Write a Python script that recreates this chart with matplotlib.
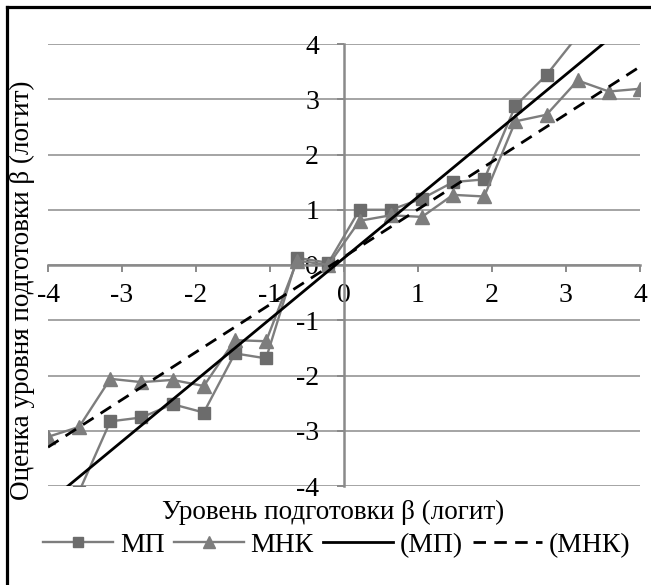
import numpy as np
import matplotlib
matplotlib.use("Agg")
import matplotlib.pyplot as plt
from matplotlib.lines import Line2D

plt.rcParams['font.family'] = ['Liberation Serif', 'DejaVu Serif']

# Уровень подготовки (x) for the 20 test-takers
beta_true = [-4.0, -3.579, -3.158, -2.737, -2.316, -1.895, -1.474, -1.053, -0.632, -0.211,
             0.211, 0.632, 1.053, 1.474, 1.895, 2.316, 2.737, 3.158, 3.579, 4.0]
# Оценки методом МП (squares); first/last points lie outside the visible range (estimated)
est_mp = [-4.60, -4.10, -2.83, -2.76, -2.52, -2.67, -1.60, -1.69, 0.13, 0.04,
          1.00, 1.00, 1.20, 1.50, 1.55, 2.88, 3.44, 4.15, 4.40, 4.60]
# Оценки методом МНК (triangles)
est_mnk = [-3.11, -2.93, -2.06, -2.12, -2.08, -2.19, -1.36, -1.38, 0.08, 0.00,
           0.80, 0.90, 0.87, 1.27, 1.24, 2.60, 2.72, 3.34, 3.14, 3.19]
# linear trend of МП: slope, intercept
trend_mp = [1.107, 0.128]

ticks = [-4, -3, -2, -1, 0, 1, 2, 3, 4]
x_label = "Уровень подготовки β (логит)"
y_label = "Оценка уровня подготовки β (логит)"
legend_labels = ["МП", "МНК", "(МП)", "(МНК)"]

x = np.array(beta_true)
mp = np.array(est_mp)
mnk = np.array(est_mnk)
k_mnk, b_mnk = np.polyfit(x, mnk, 1)
k_mp, b_mp = trend_mp
xx = np.array([x.min(), x.max()])

fig = plt.figure(figsize=(6.51, 5.85), dpi=100)
ax = fig.add_axes([48/651, 1-486/585, (640-48)/651, (486-44)/585])

series_color = '#7d7d7d'
marker_color = '#6c6c6c'
grid_color = '#959595'

ax.set_xlim(-4, 4)
ax.set_ylim(-4, 4)
ax.set_xticks(ticks)
ax.set_yticks(ticks)
ax.set_xticklabels([str(t) for t in ticks])
ax.set_yticklabels([str(t) for t in ticks])

for t in ticks:
    ax.axhline(t, color=grid_color, lw=1.2, zorder=0)

for s in ['top', 'right']:
    ax.spines[s].set_visible(False)
ax.spines['left'].set_position(('data', 0))
ax.spines['bottom'].set_position(('data', 0))
for s in ['left', 'bottom']:
    ax.spines[s].set_color('#8a8a8a')
    ax.spines[s].set_linewidth(1.8)
ax.tick_params(axis='both', direction='out', length=5, width=1.4, color='#8a8a8a',
               labelsize=20)
ax.tick_params(axis='x', pad=8)
ax.tick_params(axis='y', pad=13)

ax.plot(x, mp, color=series_color, lw=1.7, marker='s', markersize=9,
        markerfacecolor=marker_color, markeredgecolor=marker_color, zorder=3)
ax.plot(x, mnk, color=series_color, lw=1.7, marker='^', markersize=10,
        markerfacecolor=series_color, markeredgecolor=series_color, zorder=3)
l3, = ax.plot(xx, k_mp*xx + b_mp, color='black', lw=2.0, zorder=4)
l4, = ax.plot(xx, k_mnk*xx + b_mnk, color='black', lw=2.0, ls=(0, (4.5, 3)), zorder=4)

fig.text(333/651, 1-512/585, x_label, ha='center', va='center', fontsize=19.5)
fig.text(22/651, 1-290/585, y_label, ha='center', va='center', fontsize=19.5, rotation=90)

h1 = Line2D([], [], color=series_color, lw=1.7, marker='s', markersize=7,
            markerfacecolor=marker_color, markeredgecolor=marker_color)
h2 = Line2D([], [], color=series_color, lw=1.7, marker='^', markersize=8,
            markerfacecolor=series_color, markeredgecolor=series_color)
h3 = Line2D([], [], color='black', lw=2.0)
h4 = Line2D([], [], color='black', lw=2.0, ls=(0, (4.5, 3)))
fig.legend([h1, h2, h3, h4], legend_labels, loc='center', bbox_to_anchor=(337/651, 1-545/585),
           ncol=4, frameon=False, fontsize=20, handlelength=2.5, handletextpad=0.25,
           columnspacing=0.35, borderpad=0, borderaxespad=0)

# chart area border (top and left visible)
fig.add_artist(Line2D([6.5/651, 6.5/651], [0, 1-6.5/585], color='black', lw=2.3,
                      transform=fig.transFigure))
fig.add_artist(Line2D([6.5/651, 1], [1-6.5/585, 1-6.5/585], color='black', lw=2.3,
                      transform=fig.transFigure))

fig.savefig('out.png', dpi=100)
